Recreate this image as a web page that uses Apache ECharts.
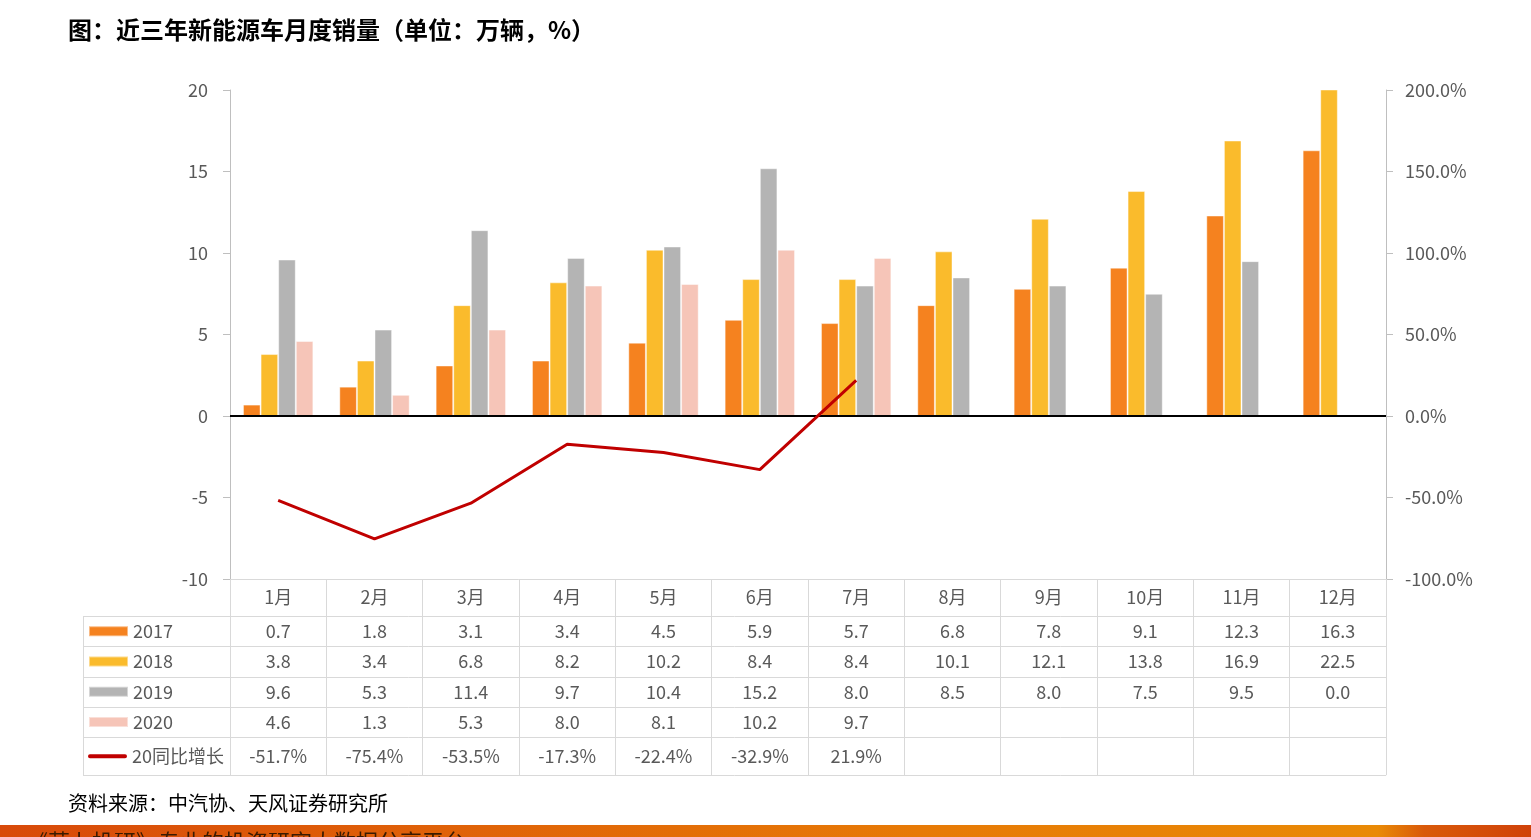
<!DOCTYPE html>
<html>
<head>
<meta charset="utf-8">
<script src="https://cdn.jsdelivr.net/npm/echarts@6/dist/echarts.min.js"></script>
<style>html,body{margin:0;padding:0;background:#fff}#c{width:1531px;height:837px}</style>
</head>
<body>
<div id="c"></div>
<script>
// ---- data ----
var months = ['1月','2月','3月','4月','5月','6月','7月','8月','9月','10月','11月','12月'];
var s2017 = [0.7,1.8,3.1,3.4,4.5,5.9,5.7,6.8,7.8,9.1,12.3,16.3];
var s2018 = [3.8,3.4,6.8,8.2,10.2,8.4,8.4,10.1,12.1,13.8,16.9,22.5];
var s2019 = [9.6,5.3,11.4,9.7,10.4,15.2,8.0,8.5,8.0,7.5,9.5,0.0];
var s2020 = [4.6,1.3,5.3,8.0,8.1,10.2,9.7];
var yoy = [-51.7,-75.4,-53.5,-17.3,-22.4,-32.9,21.9];
var seriesNames = ['2017','2018','2019','2020','20同比增长'];

// ---- layout ----
var W = 1531, H = 837;
var GL = 230, GR = 1386, GT = 90, GB = 579;
var TABLE_LEFT = 83;
var ROWS = [37, 30.3, 30.3, 30.3, 30.3, 38];
var FONT = '"Noto Sans CJK SC", "Noto Sans", sans-serif';
var TXT = '#595959';
var LINE = '#d9d9d9';

var rowEdges = [GB];
ROWS.forEach(function (h, i) { rowEdges.push(rowEdges[i] + h); });
var TABLE_BOTTOM = rowEdges[rowEdges.length - 1];

function f1(v) { return (v === undefined || v === null) ? ' ' : v.toFixed(1); }
function fp(v) { return (v === undefined || v === null) ? ' ' : v.toFixed(1) + '%'; }

var graphics = [];
for (var i = 1; i < rowEdges.length; i++) {
  graphics.push({ type: 'line', shape: { x1: TABLE_LEFT, y1: Math.round(rowEdges[i]) + 0.5, x2: GR, y2: Math.round(rowEdges[i]) + 0.5 },
    style: { stroke: LINE, lineWidth: 1 }, silent: true });
}
graphics.push({ type: 'line', shape: { x1: TABLE_LEFT + 0.5, y1: Math.round(rowEdges[1]), x2: TABLE_LEFT + 0.5, y2: Math.round(TABLE_BOTTOM) + 1 },
  style: { stroke: LINE, lineWidth: 1 }, silent: true });
graphics.push({ type: 'rect', shape: { x: 0, y: 825, width: W, height: 12 },
  style: { fill: new echarts.graphic.LinearGradient(0, 0, 1, 0, [
    { offset: 0, color: '#d84a0a' }, { offset: 0.6, color: '#e77a06' }, { offset: 0.9, color: '#e98a06' }, { offset: 0.93, color: '#d95a0a' }, { offset: 1, color: '#d0420a' }]) }, silent: true });
graphics.push({ type: 'text', left: 26, top: 831, silent: true,
  style: { text: '《萝卜投研》专业的投资研究大数据分享平台', font: '22px ' + FONT, fill: '#3a1a00' } });

var legends = [];
var LINE_ICON = 'path://M2,0 L38,0 A2,2 0 0 1 38,4 L2,4 A2,2 0 0 1 2,0 Z';
var icons = ['rect', 'rect', 'rect', 'rect', LINE_ICON];
var iconH = [10, 10, 10, 10, 4];
for (var k = 0; k < 5; k++) {
  var center = (rowEdges[k + 1] + rowEdges[k + 2]) / 2;
  legends.push({
    data: [{ name: seriesNames[k], icon: icons[k] }], left: 88, top: center - 10, padding: 0,
    itemWidth: 39, itemHeight: iconH[k], itemGap: 0, selectedMode: false,
    textStyle: { color: TXT, fontSize: 18, fontFamily: FONT, lineHeight: 20, padding: [0, 0, 0, 0] }
  });
}

var barColors = ['#f5821f', '#fabb2c', '#b4b4b4', '#f6c5b8'];
var barData = [s2017, s2018, s2019, s2020];
var series = barData.map(function (d, i) {
  return {
    name: seriesNames[i], type: 'bar', data: d, barWidth: 17.6, barGap: '0%',
    itemStyle: { color: barColors[i], borderColor: 'rgba(255,255,255,0.45)', borderWidth: 1 },
    yAxisIndex: 0, xAxisIndex: 0
  };
});
series.push({
  name: seriesNames[4], type: 'line', data: yoy, yAxisIndex: 1, symbol: 'none', z: 5,
  lineStyle: { color: '#c00000', width: 3 }, itemStyle: { color: '#c00000' },
  markLine: { silent: true, symbol: ['none', 'none'], label: { show: false },
    lineStyle: { color: '#000', width: 2, type: 'solid' }, data: [{ yAxis: 0 }] }
});

var chart = echarts.init(document.getElementById('c'), null, { renderer: 'canvas' });
chart.setOption({
  animation: false,
  backgroundColor: '#fff',
  textStyle: { fontFamily: FONT },
  title: [
    { text: '图：近三年新能源车月度销量（单位：万辆，%）', left: 68, top: 18, padding: 0,
      textStyle: { color: '#000', fontSize: 24, fontWeight: 'bold', fontFamily: FONT } },
    { text: '资料来源：中汽协、天风证券研究所', left: 68, top: 793, padding: 0,
      textStyle: { color: '#000', fontSize: 20, fontWeight: 'normal', fontFamily: FONT } }
  ],
  legend: legends,
  grid: { left: GL, right: W - GR, top: GT, bottom: H - GB, containLabel: false },
  xAxis: [{
    type: 'category', data: months, position: 'bottom',
    axisLine: { show: true, onZero: false, lineStyle: { color: LINE, width: 1 } },
    axisTick: { show: true, inside: false, length: TABLE_BOTTOM - GB, lineStyle: { color: LINE, width: 1 } },
    axisLabel: {
      interval: 0, margin: 0, hideOverlap: false, color: TXT, fontSize: 18, fontFamily: FONT,
      formatter: function (value, idx) {
        return ['{h|' + value + '}', '{r|' + f1(s2017[idx]) + '}', '{r|' + f1(s2018[idx]) + '}',
          '{r|' + f1(s2019[idx]) + '}', '{r|' + f1(s2020[idx]) + '}', '{g|' + fp(yoy[idx]) + '}'].join('\n');
      },
      rich: {
        h: { lineHeight: ROWS[0], fontSize: 18, color: TXT, fontFamily: FONT },
        r: { lineHeight: ROWS[1], fontSize: 18, color: TXT, fontFamily: FONT },
        g: { lineHeight: ROWS[5], fontSize: 18, color: TXT, fontFamily: FONT }
      }
    },
    splitLine: { show: false }
  }],
  yAxis: [{
    type: 'value', min: -10, max: 20, interval: 5, position: 'left',
    axisLine: { show: true, lineStyle: { color: '#bfbfbf' } },
    axisTick: { show: true, length: 7, lineStyle: { color: '#bfbfbf' } },
    axisLabel: { color: TXT, fontSize: 18, margin: 22, fontFamily: FONT },
    splitLine: { show: false }
  }, {
    type: 'value', min: -100, max: 200, interval: 50, position: 'right',
    axisLine: { show: true, lineStyle: { color: '#bfbfbf' } },
    axisTick: { show: true, length: 7, lineStyle: { color: '#bfbfbf' } },
    axisLabel: { color: TXT, fontSize: 18, margin: 19, fontFamily: FONT,
      formatter: function (v) { return v.toFixed(1) + '%'; } },
    splitLine: { show: false }
  }],
  series: series,
  graphic: graphics
});
</script>
</body>
</html>
